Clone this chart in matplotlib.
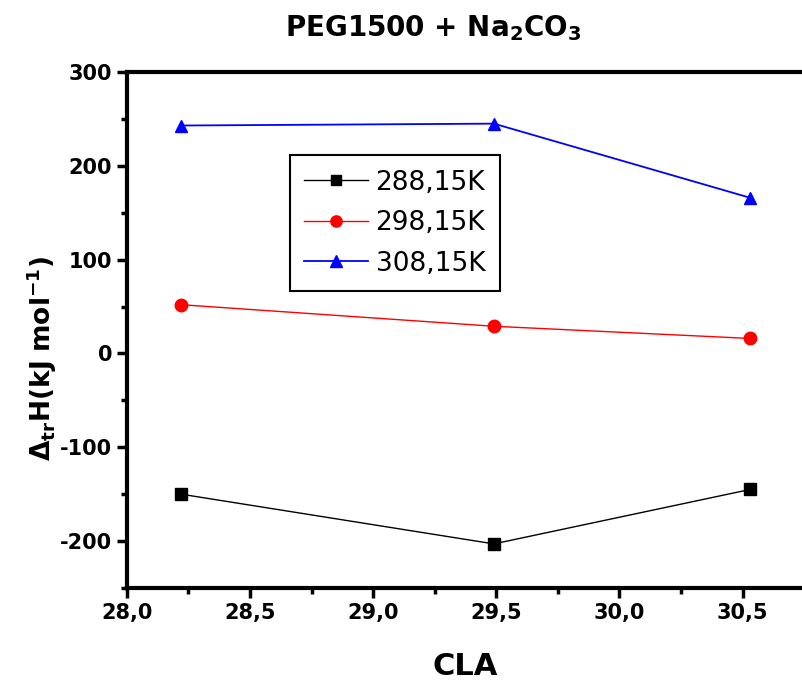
import matplotlib
matplotlib.use("Agg")
import matplotlib.pyplot as plt
from matplotlib.ticker import MultipleLocator, FuncFormatter

plt.rcParams['font.family'] = ['DejaVu Sans']
plt.rcParams['mathtext.fontset'] = 'dejavusans'

x = [28.22, 29.49, 30.53]
s288 = [-150, -203, -145]
s298 = [52, 29, 16]
s308 = [243, 245, 166]
labels = ['288,15K', '298,15K', '308,15K']

fig = plt.figure(figsize=(8.03, 6.81), dpi=100)
ax = fig.add_axes([0.158, 0.1366, 0.842, 0.7576])

ax.plot(x, s288, color='black', marker='s', markersize=8, lw=1, label=labels[0])
ax.plot(x, s298, color='red', marker='o', markersize=9, lw=1, label=labels[1],
        markeredgecolor='red')
ax.plot(x, s308, color='blue', marker='^', markersize=9, lw=1.3, label=labels[2])

ax.set_xlim(28.0, 30.745)
ax.set_ylim(-250, 300)
ax.xaxis.set_major_locator(MultipleLocator(0.5))
ax.xaxis.set_minor_locator(MultipleLocator(0.25))
ax.yaxis.set_major_locator(MultipleLocator(100))
ax.yaxis.set_minor_locator(MultipleLocator(50))
ax.xaxis.set_major_formatter(FuncFormatter(lambda v, p: f"{v:.1f}".replace('.', ',')))
ax.yaxis.set_major_formatter(FuncFormatter(lambda v, p: f"{int(round(v))}"))

for s in ['left', 'bottom', 'top']:
    ax.spines[s].set_linewidth(3)
ax.spines['right'].set_visible(False)
ax.tick_params(which='major', direction='out', length=7, width=2.5, labelsize=15, pad=3.5)
ax.tick_params(which='minor', direction='out', length=4, width=2.5)
ax.tick_params(top=False, which='both')
for t in ax.get_xticklabels() + ax.get_yticklabels():
    t.set_fontweight('bold')

ax.set_xlabel('CLA', fontsize=22, fontweight='bold')
ax.xaxis.set_label_coords(0.5, -0.125)
ax.set_ylabel(r'$\mathbf{\Delta_{tr}H(kJ\ mol^{-1})}$', fontsize=19)
ax.yaxis.set_label_coords(-0.1, 0.444)
fig.suptitle(r'PEG1500 + Na$_\mathbf{2}$CO$_\mathbf{3}$', fontsize=20, fontweight='bold',
             x=0.54, y=0.98)

leg = ax.legend(loc='upper left', bbox_to_anchor=(0.241, 0.839), fontsize=19,
                frameon=True, fancybox=False, edgecolor='black', framealpha=1,
                handlelength=2.4, handletextpad=0.3, borderpad=0.55, labelspacing=0.55,
                borderaxespad=0.0, markerscale=0.9)
leg.get_frame().set_linewidth(1.5)

fig.savefig('out.png', dpi=100)
